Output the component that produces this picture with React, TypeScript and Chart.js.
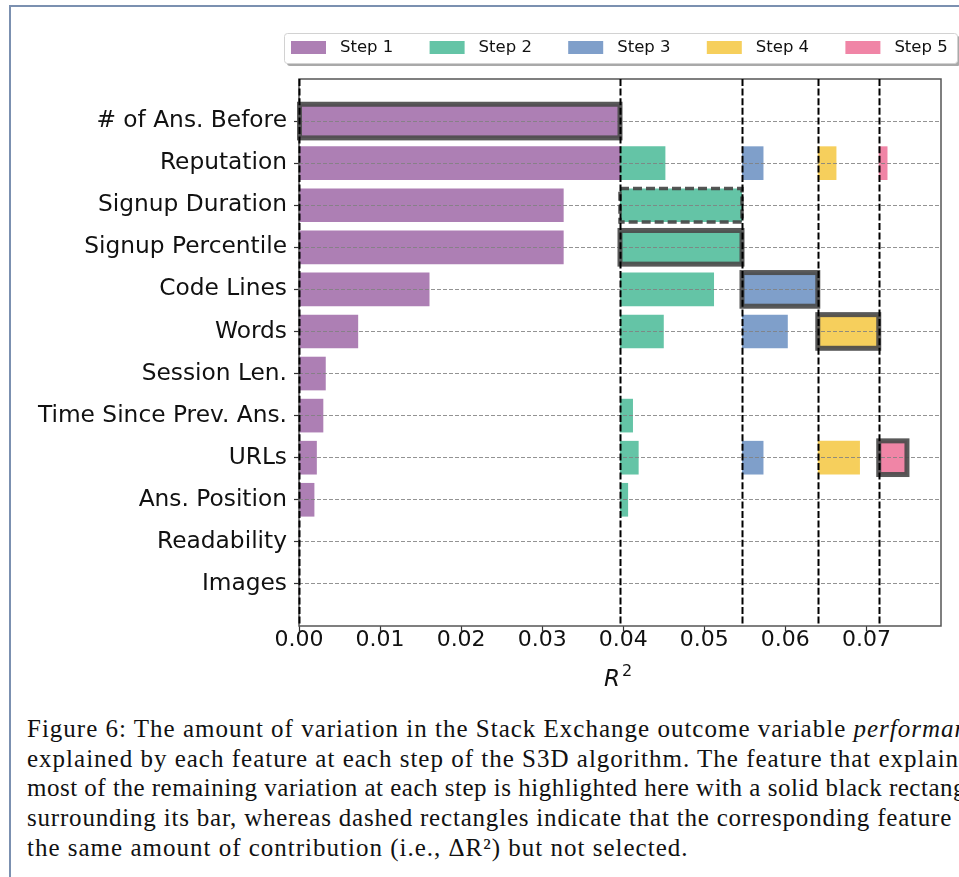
import React, { useEffect, useRef } from 'react';
import { Chart, registerables } from 'chart.js';

Chart.register(...registerables);

// ---------- data ----------
const features = [
  '# of Ans. Before',
  'Reputation',
  'Signup Duration',
  'Signup Percentile',
  'Code Lines',
  'Words',
  'Session Len.',
  'Time Since Prev. Ans.',
  'URLs',
  'Ans. Position',
  'Readability',
  'Images',
];

const stepLabels = ['Step 1', 'Step 2', 'Step 3', 'Step 4', 'Step 5'];
const stepColors = ['#ad7fb4', '#64c4a6', '#7f9fca', '#f6cf5c', '#f085a6'];

// cumulative R^2 at which each step starts
const stepBase = [0, 0.0396, 0.05465, 0.064, 0.07152];

// R^2 reached by each feature at each step (null = not shown)
const step1R2 = [0.0396, 0.0396, 0.03265, 0.03265, 0.0161, 0.0073, 0.0033, 0.003, 0.0022, 0.0019, 0.0001, 0.0001];
const step2R2 = [null, 0.0452, 0.05465, 0.05465, 0.0512, 0.045, null, 0.0412, 0.0419, 0.0406, null, null];
const step3R2 = [null, 0.0573, null, null, 0.064, 0.0603, null, null, 0.0573, null, null, null];
const step4R2 = [null, 0.0663, null, null, null, 0.07152, null, null, 0.0692, null, null, null];
const step5R2 = [null, 0.0726, null, null, null, null, null, null, 0.075, null, null, null];

const xTicks = [0, 0.01, 0.02, 0.03, 0.04, 0.05, 0.06, 0.07];
const xMax = 0.0792;
const xTitle = ['R', '2'];

// feature selected at each step (solid box) and tied-but-not-selected (dashed box)
const selectedFeature = [0, 3, 4, 5, 8];
const tiedFeatures = [{ step: 1, feature: 2 }];

const captionLines = [
  ['Figure 6: The amount of variation in the Stack Exchange outcome variable ', 'performance'],
  ['explained by each feature at each step of the S3D algorithm. The feature that explains the', ''],
  ['most of the remaining variation at each step is highlighted here with a solid black rectangle', ''],
  ['surrounding its bar, whereas dashed rectangles indicate that the corresponding feature has', ''],
  ['the same amount of contribution (i.e., ΔR²) but not selected.', ''],
];
const captionSpacing = [1, 1, 0.5, 0.8, 1];

const FONT = '"DejaVu Sans", sans-serif';

export default function App() {
  const ref = useRef<HTMLCanvasElement>(null);

  useEffect(() => {
    if (!ref.current) return;
    const steps = [step1R2, step2R2, step3R2, step4R2, step5R2];

    const datasets = steps.map((vals, k) => ({
      label: stepLabels[k],
      data: vals
        .map((v, i) => (v == null ? null : { x: [stepBase[k], v], y: i }))
        .filter((d) => d !== null),
      backgroundColor: stepColors[k],
      borderWidth: 0,
      grouped: false,
      barPercentage: 1,
      categoryPercentage: 0.8,
    }));

    const overlay = {
      id: 'overlay',
      afterDraw(chart: any) {
        const { ctx, chartArea: ca, scales } = chart;
        const xs = scales.x;
        ctx.save();
        // spines
        ctx.strokeStyle = '#555555';
        ctx.lineWidth = 1.5;
        ctx.setLineDash([]);
        ctx.strokeRect(ca.left, ca.top, ca.right - ca.left, ca.bottom - ca.top);

        // highlight boxes
        const drawBox = (k: number, f: number, dashed: boolean) => {
          const meta = chart.getDatasetMeta(k);
          meta.data.forEach((el: any, j: number) => {
            const p = meta.controller.getParsed(j);
            if (p.y !== f) return;
            const { x, y, base, height } = el.getProps(['x', 'y', 'base', 'height'], true);
            ctx.save();
            ctx.strokeStyle = dashed ? 'rgba(70,70,70,0.92)' : 'rgba(75,75,75,0.92)';
            ctx.lineWidth = dashed ? 3.5 : 5;
            ctx.setLineDash(dashed ? [9, 4] : []);
            ctx.strokeRect(Math.min(x, base), y - height / 2, Math.abs(x - base), height);
            ctx.restore();
          });
        };
        selectedFeature.forEach((f, k) => drawBox(k, f, false));
        tiedFeatures.forEach((t) => drawBox(t.step, t.feature, true));

        // vertical dashed lines at step bases
        ctx.strokeStyle = '#000000';
        ctx.lineWidth = 2;
        ctx.setLineDash([7, 2.6]);
        stepBase.forEach((b) => {
          const px = Math.round(xs.getPixelForValue(b)) + 0.5;
          ctx.beginPath();
          ctx.moveTo(px, ca.top);
          ctx.lineTo(px, ca.bottom);
          ctx.stroke();
        });
        ctx.setLineDash([]);

        // x-axis title (math-style R^2)
        ctx.fillStyle = '#111111';
        ctx.textBaseline = 'alphabetic';
        ctx.textAlign = 'left';
        ctx.font = `italic 23px ${FONT}`;
        const wR = ctx.measureText(xTitle[0]).width;
        ctx.font = `16px ${FONT}`;
        const w2 = ctx.measureText(xTitle[1]).width;
        const cx = (ca.left + ca.right) / 2 - 2;
        const tx = cx - (wR + w2 + 2) / 2;
        const ty = ca.bottom + 60;
        ctx.font = `italic 23px ${FONT}`;
        ctx.fillText(xTitle[0], tx, ty);
        ctx.font = `16px ${FONT}`;
        ctx.fillText(xTitle[1], tx + wR + 2, ty - 10);

        // legend
        const lx = 284, ly = 33, lw = 673, lh = 30;
        ctx.fillStyle = '#a9a9a9';
        ctx.beginPath();
        ctx.roundRect(lx + 3, ly + 3, lw, lh, 3);
        ctx.fill();
        ctx.fillStyle = '#ffffff';
        ctx.strokeStyle = '#d2d2d2';
        ctx.lineWidth = 1;
        ctx.beginPath();
        ctx.roundRect(lx + 0.5, ly + 0.5, lw, lh, 3);
        ctx.fill();
        ctx.stroke();
        ctx.font = `16.5px ${FONT}`;
        ctx.textBaseline = 'middle';
        ctx.textAlign = 'left';
        stepLabels.forEach((lab, k) => {
          const sx = lx + 7 + k * 138.6;
          ctx.fillStyle = stepColors[k];
          ctx.fillRect(sx, ly + 8, 35, 13);
          ctx.fillStyle = '#111111';
          ctx.fillText(lab, sx + 49, ly + 15);
        });
        ctx.restore();
      },
    };

    const chart = new Chart(ref.current, {
      type: 'bar',
      data: { datasets: datasets as any },
      options: {
        indexAxis: 'y',
        animation: false,
        responsive: false,
        devicePixelRatio: 1,
        layout: { padding: { top: 79, right: 18, bottom: 8, left: 0 } },
        plugins: {
          legend: { display: false },
          tooltip: { enabled: false },
        },
        scales: {
          x: {
            type: 'linear',
            min: 0,
            max: xMax,
            afterBuildTicks: (scale: any) => {
              scale.ticks = xTicks.map((v) => ({ value: v }));
            },
            afterFit: (scale: any) => {
              scale.height = 66;
            },
            ticks: {
              autoSkip: false,
              maxRotation: 0,
              padding: -4,
              color: '#111111',
              font: { family: FONT, size: 22 },
              callback: (v: any) => Number(v).toFixed(2),
            },
            grid: {
              display: true,
              drawOnChartArea: false,
              drawTicks: true,
              tickLength: 5,
              tickColor: '#333333',
              tickWidth: 1.2,
            },
            border: { display: false },
            title: { display: false },
          },
          y: {
            type: 'linear',
            reverse: true,
            min: -1,
            max: 12,
            offset: false,
            afterBuildTicks: (scale: any) => {
              scale.ticks = features.map((_, i) => ({ value: i }));
            },
            afterFit: (scale: any) => {
              scale.width = 299;
            },
            ticks: {
              autoSkip: false,
              padding: 7,
              color: '#111111',
              font: { family: FONT, size: 23.3 },
              callback: (v: any) => features[v] ?? '',
            },
            grid: {
              display: true,
              offset: false,
              z: 1,
              color: 'rgba(128,128,128,0.85)',
              lineWidth: 1,
              drawTicks: true,
              tickLength: 5,
              tickColor: '#333333',
              tickWidth: 1.2,
              tickBorderDash: [],
              borderDash: [4, 2],
            } as any,
            border: { display: false, dash: [4, 2] },
          },
        },
      },
      plugins: [overlay],
    });

    return () => chart.destroy();
  }, []);

  return (
    <div
      style={{
        position: 'absolute',
        left: 0,
        top: 0,
        width: 959,
        height: 877,
        overflow: 'hidden',
        background: '#ffffff',
      }}
    >
      <div
        style={{
          position: 'absolute',
          left: 9,
          top: 5,
          width: 1200,
          height: 1200,
          borderLeft: '2px solid #7b90b0',
          borderTop: '2px solid #7b90b0',
        }}
      />
      <canvas
        ref={ref}
        width={959}
        height={700}
        style={{ position: 'absolute', left: 0, top: 0, width: 959, height: 700 }}
      />
      <div
        style={{
          position: 'absolute',
          left: 27,
          top: 714,
          fontFamily: '"Liberation Serif", "Times New Roman", serif',
          fontSize: 25,
          lineHeight: '29.7px',
          color: '#111',
          whiteSpace: 'nowrap',
        }}
      >
        {captionLines.map((l, i) => (
          <div key={i} style={{ letterSpacing: `${captionSpacing[i]}px` }}>
            {l[0]}
            {l[1] ? <i>{l[1]}</i> : null}
          </div>
        ))}
      </div>
    </div>
  );
}
